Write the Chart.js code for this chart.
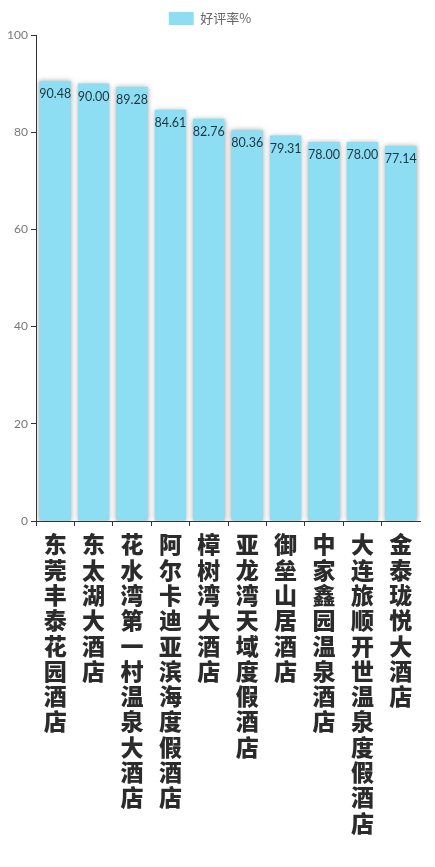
<!DOCTYPE html>
<html>
<head>
<meta charset="utf-8">
<script src="https://cdn.jsdelivr.net/npm/chart.js@4"></script>
<style>
  html, body { margin: 0; padding: 0; background: #fff; }
  #wrap { width: 435px; height: 867px; position: relative; }
</style>
</head>
<body>
<div id="wrap"><canvas id="grafico"></canvas></div>
<script>
// dados ---------------------------------------------------------------
const hoteis = ['东莞丰泰花园酒店', '东太湖大酒店', '花水湾第一村温泉大酒店', '阿尔卡迪亚滨海度假酒店', '樟树湾大酒店',
                '亚龙湾天域度假酒店', '御垒山居酒店', '中家鑫园温泉酒店', '大连旅顺开世温泉度假酒店', '金泰珑悦大酒店']
const taxas = [90.48, 90.00, 89.28, 84.61, 82.76, 80.36, 79.31, 78.00, 78.00, 77.14]
const serie = '好评率%'
const ticksY = [0, 20, 40, 60, 80, 100]

const azul = '#8ddef3'

// rotulos em coluna (um caractere por linha)
const rotulos = hoteis.map(h => Array.from(h))

// sombra das barras
const sombra = {
  id: 'sombra',
  beforeDatasetDraw(chart) {
    const ctx = chart.ctx
    ctx.save()
    ctx.shadowColor = 'rgba(90,90,90,0.55)'
    ctx.shadowBlur = 5
    ctx.shadowOffsetX = 0
    ctx.shadowOffsetY = 0
  },
  afterDatasetDraw(chart) {
    chart.ctx.restore()
  }
}

// valores dentro da barra
const valores = {
  id: 'valores',
  afterDatasetsDraw(chart) {
    const ctx = chart.ctx
    const meta = chart.getDatasetMeta(0)
    ctx.save()
    ctx.font = '12.5px Lato'
    ctx.fillStyle = '#1f3442'
    ctx.textAlign = 'center'
    ctx.textBaseline = 'middle'
    meta.data.forEach((barra, i) => {
      ctx.fillText(taxas[i].toFixed(2), barra.x, barra.y + 13)
    })
    ctx.restore()
  }
}

const ctx = document.getElementById('grafico').getContext('2d')

const data = {
  labels: rotulos,
  datasets: [{
    label: serie,
    data: taxas,
    backgroundColor: azul,
    borderWidth: 0,
    categoryPercentage: 1,
    barPercentage: 0.82
  }]
}

const config = {
  type: 'bar',
  data,
  plugins: [sombra, valores],
  options: {
    responsive: true,
    maintainAspectRatio: false,
    animation: false,
    layout: {
      padding: { top: 2, right: 15, left: 0, bottom: 0 }
    },
    scales: {
      x: {
        afterFit(scale) { scale.height = 346 },
        grid: {
          offset: true,
          drawOnChartArea: false,
          drawTicks: true,
          tickLength: 5,
          // sem marca no fim do eixo
          color: (c) => c.tick ? '#333' : 'rgba(0,0,0,0)'
        },
        border: { display: true, color: '#333', width: 1 },
        ticks: {
          autoSkip: false,
          maxRotation: 0,
          minRotation: 0,
          padding: 6,
          color: '#2b2b2b',
          font: { family: '"Noto Sans CJK SC"', size: 23, weight: 900, lineHeight: 1.1 }
        }
      },
      y: {
        min: 0,
        max: 100,
        afterFit(scale) { scale.width = 36 },
        afterBuildTicks(scale) { scale.ticks = ticksY.map(v => ({ value: v })) },
        grid: {
          drawOnChartArea: false,
          drawTicks: true,
          tickLength: 5,
          color: '#333'
        },
        border: { display: true, color: '#333', width: 1 },
        ticks: {
          padding: 3,
          color: '#777',
          font: { family: 'Lato', size: 12 }
        }
      }
    },
    plugins: {
      legend: {
        display: true,
        position: 'top',
        labels: {
          boxWidth: 25,
          boxHeight: 13,
          padding: 10,
          color: '#666',
          font: { family: '"Noto Sans CJK SC"', size: 13 }
        }
      },
      tooltip: { enabled: false }
    }
  }
}

new Chart(ctx, config)
</script>
</body>
</html>
